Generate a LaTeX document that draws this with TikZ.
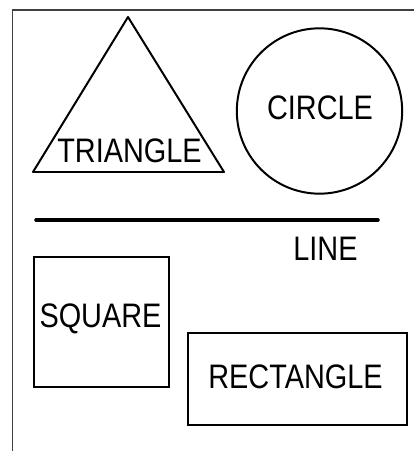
\documentclass[tikz,border=0pt]{standalone}
\usepackage{fontspec}
\usepackage{graphicx}
\setmainfont{Liberation Sans}
\newcommand{\estreita}[1]{\scalebox{0.85}[1]{#1}}
\tikzset{
  forma/.style={line width=1.7pt, fill=white},
  rotulo/.style={font=\fontsize{29}{34}\selectfont, inner sep=0pt}
}
\begin{document}
\begin{tikzpicture}[x=0.03cm, y=-0.03cm]
  \useasboundingbox (0,0) rectangle (414,451);
  % moldura
  \coordinate (F0) at (12.5,451);
  \coordinate (F1) at (12.5,10);
  \coordinate (F2) at (414,10);
  \draw[line width=1.2pt, black!75] (F0) -- (F1) -- (F2);
  % triangulo
  \coordinate (T1) at (33,172);
  \coordinate (T2) at (224,172);
  \coordinate (T3) at (128,17);
  \draw[forma, line join=round] (T1) -- (T2) -- (T3) -- cycle;
  \node[rotulo] (tri) at (129.5,151) {\estreita{TRIANGLE}};
  % circulo
  \coordinate (C) at (319.5,111);
  \draw[forma] (C) circle [radius=2.48cm];
  \node[rotulo] (cir) at (320,108) {\estreita{CIRCLE}};
  % linha
  \coordinate (L1) at (36,220);
  \coordinate (L2) at (378,220);
  \draw[line width=3pt, line cap=round] (L1) -- (L2);
  \node[rotulo] (lin) at (325.5,249) {\estreita{LINE}};
  % quadrado
  \draw[forma] (34,257) rectangle (169,387);
  \node[rotulo] (qua) at (100.5,319) {\estreita{SQUARE}};
  % retangulo
  \draw[forma] (188,333) rectangle (407,425);
  \node[rotulo] (ret) at (295.5,377) {\estreita{RECTANGLE}};
\end{tikzpicture}
\end{document}
